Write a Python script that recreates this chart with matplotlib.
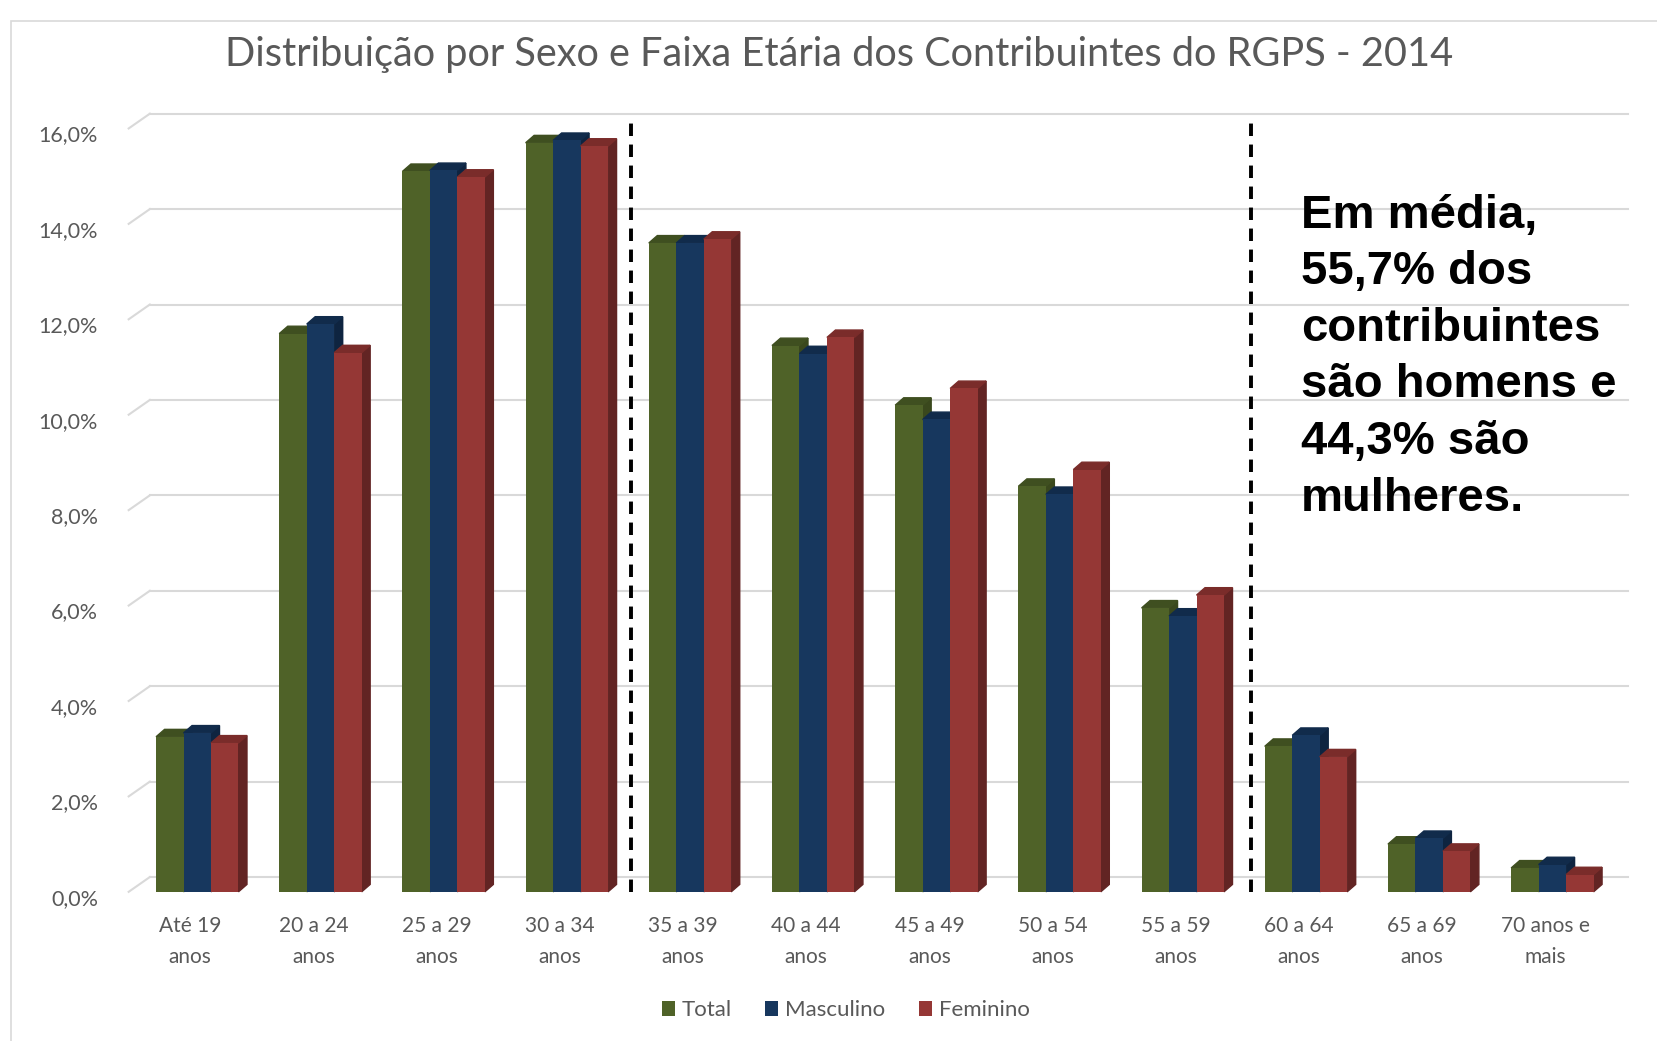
import matplotlib
matplotlib.use("Agg")
import matplotlib.pyplot as plt
from matplotlib.patches import Polygon, Patch, Rectangle
from matplotlib.transforms import ScaledTranslation

categories = ["Até 19\nanos", "20 a 24\nanos", "25 a 29\nanos", "30 a 34\nanos",
              "35 a 39\nanos", "40 a 44\nanos", "45 a 49\nanos", "50 a 54\nanos",
              "55 a 59\nanos", "60 a 64\nanos", "65 a 69\nanos", "70 anos e\nmais"]
total = [3.25, 11.7, 15.1, 15.7, 13.6, 11.45, 10.2, 8.5, 5.95, 3.05, 1.0, 0.5]
masculino = [3.33, 11.9, 15.12, 15.75, 13.6, 11.28, 9.9, 8.33, 5.78, 3.28, 1.12, 0.57]
feminino = [3.12, 11.3, 14.98, 15.63, 13.68, 11.62, 10.55, 8.85, 6.22, 2.83, 0.85, 0.36]
series_names = ["Total", "Masculino", "Feminino"]
yticks = [0, 2, 4, 6, 8, 10, 12, 14, 16]
separators = [3.58, 8.61]
note = "Em média,\n55,7% dos\ncontribuintes\nsão homens e\n44,3% são\nmulheres."

front_colors = ["#4F6228", "#17375E", "#953735"]
side_colors = ["#3A481D", "#0E2440", "#622423"]
top_colors = ["#3F4F20", "#112B4B", "#7A2C2A"]

plt.rcParams['font.family'] = ['Lato', 'DejaVu Sans']

fig = plt.figure(figsize=(16.58, 10.41), dpi=100)
ax = fig.add_axes([0.0776, 0.1433, 0.8916, 0.7333])
ax.set_xlim(-0.5, 11.5)
ax.set_ylim(0, 16)
for s in ax.spines.values():
    s.set_visible(False)

# back wall gridlines with perspective offset
wdx, wdy = 0.172, 0.31
for v in yticks:
    ax.plot([-0.5, -0.5 + wdx], [v, v + wdy], color="#d9d9d9", lw=1.5, zorder=1, clip_on=False)
    ax.plot([-0.5 + wdx, 11.5 + wdx], [v + wdy, v + wdy], color="#d9d9d9", lw=1.5, zorder=1, clip_on=False)

w = 0.223
shift = 0.057
ddx, ddy = 0.069, 0.155
for j, vals in enumerate([total, masculino, feminino]):
    xs = [i + shift + (j - 1) * w for i in range(len(categories))]
    z = 2 + j
    ax.bar(xs, vals, width=w, color=front_colors[j], zorder=z + 0.2, clip_on=False)
    for x, h in zip(xs, vals):
        L, R = x - w / 2, x + w / 2
        ax.add_patch(Polygon([(R, 0), (R + ddx, ddy), (R + ddx, h + ddy), (R, h)],
                             closed=True, color=side_colors[j], zorder=z, clip_on=False))
        ax.add_patch(Polygon([(L, h), (L + ddx, h + ddy), (R + ddx, h + ddy), (R, h)],
                             closed=True, color=top_colors[j], zorder=z, clip_on=False))

for sx in separators:
    ax.plot([sx, sx], [0, 16.2], color="black", lw=2.8, ls=(0, (3.2, 2.2)), zorder=10, clip_on=False)

ax.set_yticks(yticks)
ax.set_yticklabels([f"{v:.1f}%".replace(".", ",") for v in yticks], fontsize=15.5, color="#595959")
ax.tick_params(axis="y", length=0, pad=22)
for lab in ax.get_yticklabels():
    lab.set_transform(lab.get_transform() + ScaledTranslation(0, -0.05, fig.dpi_scale_trans))
ax.set_xticks([])

for i, c in enumerate(categories):
    ax.text(i, -0.065, c, transform=ax.get_xaxis_transform(), ha="center", va="center",
            fontsize=15, color="#595959", linespacing=1.7)

fig.text(0.506, 0.948, "Distribuição por Sexo e Faixa Etária dos Contribuintes do RGPS - 2014",
         ha="center", va="center", fontsize=28.6, color="#595959")

fig.text(0.7845, 0.814, note, ha="left", va="top", fontsize=34, fontweight="bold",
         family=["Liberation Sans", "DejaVu Sans"], color="black", linespacing=1.37)

handles = [Patch(facecolor=c, edgecolor="none", label=n) for c, n in zip(front_colors, series_names)]
fig.legend(handles=handles, loc="center", bbox_to_anchor=(0.51, 0.0295), ncol=3, frameon=False,
           fontsize=16, handlelength=0.6, handleheight=0.6, handletextpad=0.3, columnspacing=1.5,
           labelcolor="#595959")

fig.add_artist(Rectangle((0.0065, -0.01), 1.0, 0.9995 - 0.0095, transform=fig.transFigure,
                         fill=False, edgecolor="#d9d9d9", lw=1.2))

fig.savefig("out.png", dpi=100)
